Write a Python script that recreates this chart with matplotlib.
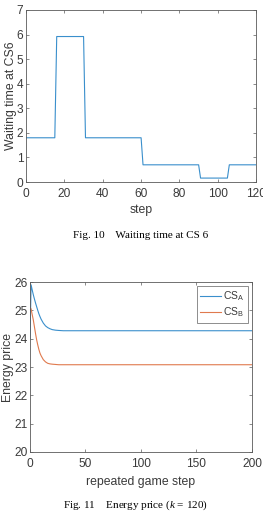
import matplotlib
matplotlib.use("Agg")
import matplotlib.pyplot as plt

# Fig. 10: waiting time at CS6 (step curve)
wait_step = [0, 15, 16, 30, 31, 60, 61, 90, 91, 105, 106, 120]
wait_time = [1.8, 1.8, 5.92, 5.92, 1.8, 1.8, 0.7, 0.7, 0.16, 0.16, 0.7, 0.7]

# Fig. 11: energy price over repeated game steps
game_step = [0, 1, 2, 3, 4, 5, 6, 7, 8, 9, 10, 12, 14, 16, 18, 20, 23, 26, 30, 40, 200]
price_a = [24.0, 25.9, 25.72, 25.55, 25.4, 25.26, 25.13, 25.0, 24.88, 24.78, 24.69,
           24.55, 24.45, 24.39, 24.35, 24.32, 24.3, 24.29, 24.28, 24.28, 24.28]
price_b = [25.1, 25.05, 24.85, 24.66, 24.42, 24.18, 23.96, 23.78, 23.62, 23.49, 23.4,
           23.26, 23.18, 23.13, 23.11, 23.1, 23.09, 23.08, 23.08, 23.08, 23.08]

plt.rcParams["font.family"] = ["Liberation Sans", "DejaVu Sans"]
plt.rcParams["mathtext.fontset"] = "custom"
plt.rcParams["mathtext.rm"] = "Liberation Sans"
plt.rcParams["mathtext.it"] = "Liberation Serif:italic"

BLUE = "#3a8fcc"
ORANGE = "#e07a4e"
AX_COLOR = "#5a5a5a"
TXT = "#3a3a3a"


def style_axes(ax):
    for s in ax.spines.values():
        s.set_color(AX_COLOR)
        s.set_linewidth(0.6)
    ax.tick_params(direction="in", top=True, right=True, length=2.5, width=0.5,
                   color=AX_COLOR, labelsize=8.6, labelcolor=TXT)
    ax.tick_params(axis="x", pad=4.5)
    ax.tick_params(axis="y", pad=2)


fig = plt.figure(figsize=(2.63, 5.12), dpi=100)

ax1 = fig.add_axes([0.099, 0.6445, 0.875, 0.336])
ax1.plot(wait_step, wait_time, color=BLUE, lw=0.8)
ax1.set_xlim(0, 120)
ax1.set_ylim(0, 7)
ax1.set_xticks(range(0, 121, 20))
ax1.set_yticks(range(0, 8))
style_axes(ax1)
ax1.set_xlabel("step", fontsize=8.8, color=TXT, labelpad=3)
ax1.set_ylabel("Waiting time at CS6", fontsize=8.8, color=TXT, labelpad=0)
fig.text(0.535, 1 - 235 / 512, "Fig. 10    Waiting time at CS 6", ha="center", va="center",
         fontsize=8, family="Liberation Serif")

ax2 = fig.add_axes([0.114, 0.1172, 0.844, 0.332])
ax2.plot(game_step, price_a, color=BLUE, lw=0.8, label="CS$_\\mathrm{A}$")
ax2.plot(game_step, price_b, color=ORANGE, lw=0.8, label="CS$_\\mathrm{B}$")
ax2.set_xlim(0, 200)
ax2.set_ylim(20, 26)
ax2.set_xticks(range(0, 201, 50))
ax2.set_yticks(range(20, 27))
style_axes(ax2)
ax2.set_xlabel("repeated game step", fontsize=8.8, color=TXT, labelpad=4)
ax2.set_ylabel("Energy price", fontsize=8.8, color=TXT, labelpad=0)
leg = ax2.legend(loc="upper right", fontsize=7.5, handlelength=2.0, handletextpad=0.2,
                 borderpad=0.3, labelspacing=0.3, fancybox=False, borderaxespad=0.4)
leg.get_frame().set_edgecolor(AX_COLOR)
leg.get_frame().set_linewidth(0.6)
for t in leg.get_texts():
    t.set_color(TXT)
fig.text(0.515, 1 - 505 / 512, "Fig. 11    Energy price ($k$ = 120)", ha="center", va="center",
         fontsize=8, family="Liberation Serif")

fig.savefig("out.png", dpi=100)
